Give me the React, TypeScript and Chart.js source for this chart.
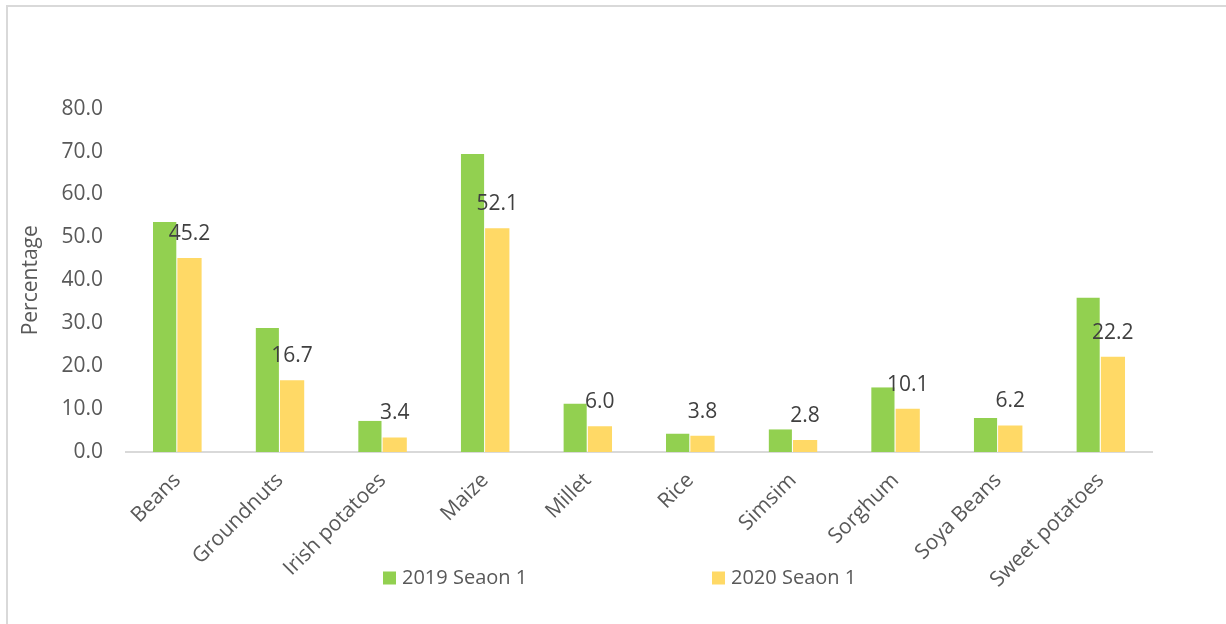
import React, { useEffect, useRef } from "react";
import { Chart, registerables } from "chart.js";

Chart.register(...registerables);

const categories = [
  "Beans",
  "Groundnuts",
  "Irish potatoes",
  "Maize",
  "Millet",
  "Rice",
  "Simsim",
  "Sorghum",
  "Soya Beans",
  "Sweet potatoes",
];
const season2019 = [53.6, 28.9, 7.3, 69.4, 11.3, 4.3, 5.3, 15.1, 7.9, 36.0];
const season2020 = [45.2, 16.7, 3.4, 52.1, 6.0, 3.8, 2.8, 10.1, 6.2, 22.2];
const seriesNames = ["2019 Seaon 1", "2020 Seaon 1"];
const yTitle = "Percentage";

const GREEN = "#92D050";
const YELLOW = "#FFD966";
const FONT = "'Open Sans', 'DejaVu Sans', sans-serif";

const dataLabelPlugin = {
  id: "dataLabels",
  afterDatasetsDraw(chart: any) {
    const ctx = chart.ctx;
    const meta = chart.getDatasetMeta(1);
    ctx.save();
    ctx.font = `21px ${FONT}`;
    ctx.fillStyle = "#404040";
    ctx.textAlign = "center";
    ctx.textBaseline = "middle";
    meta.data.forEach((bar: any, i: number) => {
      const v = chart.data.datasets[1].data[i] as number;
      ctx.fillText(v.toFixed(1), bar.x, bar.y - 24);
    });
    ctx.restore();
  },
};

const legendPlugin = {
  id: "customLegend",
  afterDraw(chart: any) {
    const ctx = chart.ctx;
    const xs = [383, 712];
    const y = 578;
    ctx.save();
    ctx.font = `20px ${FONT}`;
    ctx.textAlign = "left";
    ctx.textBaseline = "middle";
    chart.data.datasets.forEach((ds: any, i: number) => {
      ctx.fillStyle = ds.backgroundColor;
      ctx.fillRect(xs[i], y - 6.5, 13, 13);
      ctx.fillStyle = "#595959";
      ctx.fillText(ds.label, xs[i] + 19, y);
    });
    ctx.restore();
  },
};

export default function App() {
  const ref = useRef<HTMLCanvasElement>(null);

  useEffect(() => {
    if (!ref.current) return;
    Chart.defaults.font.family = FONT;
    const chart = new Chart(ref.current, {
      type: "bar",
      data: {
        labels: categories,
        datasets: [
          {
            label: seriesNames[0],
            data: season2019,
            backgroundColor: GREEN,
            borderColor: "#ffffff",
            borderWidth: { top: 0, right: 1, bottom: 0, left: 0 },
            borderSkipped: false,
            categoryPercentage: 0.474,
            barPercentage: 1,
          },
          {
            label: seriesNames[1],
            data: season2020,
            backgroundColor: YELLOW,
            borderWidth: 0,
            categoryPercentage: 0.474,
            barPercentage: 1,
          },
        ],
      },
      options: {
        responsive: false,
        animation: false,
        devicePixelRatio: 1,
        layout: { padding: { top: 108.6, left: 0, right: 74, bottom: 0 } },
        plugins: {
          legend: { display: false },
          tooltip: { enabled: false },
        },
        scales: {
          x: {
            grid: { display: false, drawTicks: false },
            border: { display: true, color: "#d9d9d9", width: 2 },
            ticks: {
              color: "#595959",
              font: { size: 21 },
              maxRotation: 45,
              minRotation: 45,
              autoSkip: false,
              padding: 16,
            },
            afterFit(scale: any) {
              scale.height = 172;
            },
          },
          y: {
            min: 0,
            max: 80,
            grid: { display: false, drawTicks: false },
            border: { display: false },
            ticks: {
              stepSize: 10,
              color: "#595959",
              font: { size: 21 },
              padding: 23,
              callback: (v: any) => Number(v).toFixed(1),
            },
            title: {
              display: true,
              text: yTitle,
              color: "#595959",
              font: { size: 21 },
              padding: { top: 18, bottom: 0 },
            },
            afterFit(scale: any) {
              scale.width = 126;
            },
          },
        },
      },
      plugins: [dataLabelPlugin, legendPlugin],
    });
    return () => chart.destroy();
  }, []);

  return (
    <div
      style={{
        position: "absolute",
        left: 0,
        top: 0,
        width: 1226,
        height: 624,
        overflow: "hidden",
        background: "#ffffff",
      }}
    >
      <div
        style={{
          position: "absolute",
          left: 6,
          top: 5,
          width: 1300,
          height: 700,
          borderTop: "2px solid #d9d9d9",
          borderLeft: "2px solid #d9d9d9",
        }}
      />
      <canvas
        ref={ref}
        width={1226}
        height={624}
        style={{ position: "absolute", left: 0, top: 0 }}
      />
    </div>
  );
}
